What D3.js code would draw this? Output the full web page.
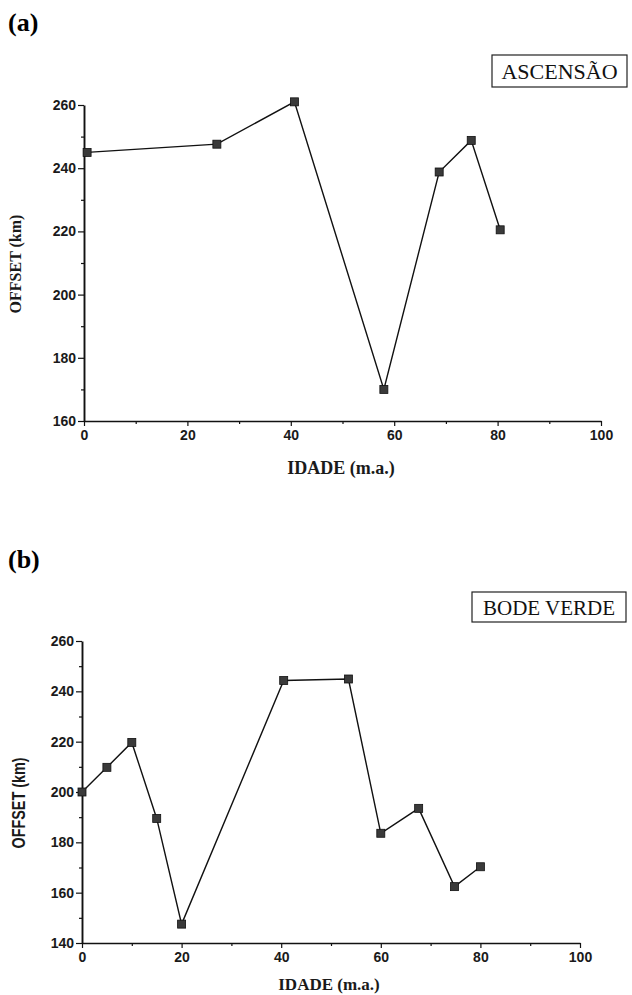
<!DOCTYPE html>
<html>
<head>
<meta charset="utf-8">
<script src="https://cdn.jsdelivr.net/npm/d3@7"></script>
<style>
  body { margin: 0; background: #fff; }
  .tick text { font-family: Arial, "Liberation Sans", sans-serif; font-weight: bold; fill: #1a1a1a; }
  .domain, .tick line { stroke: #111; }
</style>
</head>
<body>
<div id="chart"></div>
<script>
// ASCENSAO (a)
var ageA = [0.6, 25.7, 40.7, 58, 68.7, 74.9, 80.5];
var offsetA = [245, 247.6, 261, 170, 238.8, 248.8, 220.5];
// BODE VERDE (b)
var ageB = [0, 5, 10, 15, 20, 40.5, 53.5, 60, 67.6, 74.8, 80];
var offsetB = [200, 209.8, 219.7, 189.5, 147.5, 244.3, 244.9, 183.6, 193.5, 162.4, 170.3];

var xTicks = [0, 20, 40, 60, 80, 100];
var yTicksA = [160, 180, 200, 220, 240, 260];
var yTicksB = [140, 160, 180, 200, 220, 240, 260];

var serif = "'Liberation Serif', 'Times New Roman', serif";
var svg = d3.select("#chart").append("svg").attr("width", 632).attr("height", 995);

function panel(cfg) {
    var x = d3.scaleLinear().domain([0, 100]).range([cfg.left, cfg.right]);
    var y = d3.scaleLinear().domain(cfg.ydom).range([cfg.bottom, cfg.top]);
    var g = svg.append("g");

    // minor ticks
    var minorX = d3.range(10, 100, 20);
    var minorY = d3.range(cfg.ydom[0] + 10, cfg.ydom[1], 20);

    g.append("g").attr("transform", "translate(0," + cfg.bottom + ")")
        .call(d3.axisBottom(x).tickValues(minorX).tickSize(3).tickFormat(""))
        .select(".domain").remove();
    g.append("g").attr("transform", "translate(" + cfg.left + ",0)")
        .call(d3.axisLeft(y).tickValues(minorY).tickSize(3).tickFormat(""))
        .select(".domain").remove();

    var xa = g.append("g").attr("transform", "translate(0," + cfg.bottom + ")")
        .call(d3.axisBottom(x).tickValues(xTicks).tickSize(5).tickSizeOuter(0).tickPadding(4));
    var ya = g.append("g").attr("transform", "translate(" + cfg.left + ",0)")
        .call(d3.axisLeft(y).tickValues(cfg.yticks).tickSize(6).tickSizeOuter(0).tickPadding(2));
    xa.selectAll(".domain").attr("stroke-width", 1.7);
    ya.selectAll(".domain").attr("stroke-width", 1.9);
    g.selectAll(".tick line").attr("stroke-width", 1.2);
    xa.selectAll("text").style("font-size", cfg.tickFont);
    ya.selectAll("text").style("font-size", cfg.tickFont);

    var pts = cfg.xs.map(function(d, i){ return [d, cfg.ys[i]]; });
    var line = d3.line().x(function(d){ return x(d[0]); }).y(function(d){ return y(d[1]); });
    g.append("path").datum(pts).attr("d", line)
        .attr("fill", "none").attr("stroke", "#111").attr("stroke-width", 1.4);

    g.selectAll("rect.pt").data(pts).enter().append("rect").attr("class", "pt")
        .attr("x", function(d){ return x(d[0]) - 4; })
        .attr("y", function(d){ return y(d[1]) - 4; })
        .attr("width", 8).attr("height", 8)
        .attr("fill", "#3a3a3a").attr("stroke", "#111").attr("stroke-width", 0.8);

    // panel letter
    svg.append("text").attr("x", 8).attr("y", cfg.letterY)
        .style("font-family", serif)
        .style("font-weight", "bold").style("font-size", "26px")
        .text(cfg.letter);

    // name box
    svg.append("rect").attr("x", cfg.box[0]).attr("y", cfg.box[1])
        .attr("width", cfg.box[2]).attr("height", cfg.box[3])
        .attr("fill", "#fff").attr("stroke", "#222").attr("stroke-width", 1.2);
    svg.append("text").attr("x", cfg.box[0] + cfg.box[2] / 2).attr("y", cfg.box[1] + cfg.box[3] / 2 + 8)
        .attr("text-anchor", "middle")
        .style("font-family", serif)
        .style("font-size", cfg.nameFont).style("fill", "#111")
        .text(cfg.name);

    // axis titles
    svg.append("text").attr("x", cfg.xlabX).attr("y", cfg.xlabY)
        .attr("text-anchor", "middle")
        .style("font-family", serif).style("font-weight", "bold")
        .style("font-size", cfg.xlabFont).style("fill", "#1a1a1a")
        .text("IDADE (m.a.)");
    svg.append("text")
        .attr("transform", "translate(" + cfg.ylabX + "," + cfg.ylabY + ") rotate(-90)" + cfg.ylabSquash)
        .attr("text-anchor", "middle")
        .style("font-family", cfg.ylabFamily)
        .style("font-size", cfg.ylabFont).style("font-weight", "bold").style("fill", "#1a1a1a")
        .text("OFFSET (km)");
}

panel({
    xs: ageA, ys: offsetA, ydom: [160, 260], yticks: yTicksA,
    left: 84, right: 601, top: 105, bottom: 421,
    letter: "(a)", letterY: 31,
    name: "ASCENSÃO", box: [492, 55, 135, 32], nameFont: "22px",
    xlabX: 341, xlabY: 474, xlabFont: "18px",
    ylabX: 21, ylabY: 264, ylabFamily: serif, ylabSquash: "", ylabFont: "16px",
    tickFont: "14px"
});

panel({
    xs: ageB, ys: offsetB, ydom: [140, 260], yticks: yTicksB,
    left: 82, right: 580, top: 641, bottom: 943,
    letter: "(b)", letterY: 568,
    name: "BODE VERDE", box: [472, 592, 154, 30], nameFont: "21px",
    xlabX: 329, xlabY: 990, xlabFont: "17px",
    ylabX: 25, ylabY: 803, ylabFamily: "Arial, 'Liberation Sans', sans-serif", ylabSquash: " scale(0.8,1)", ylabFont: "18px",
    tickFont: "14px"
});
</script>
</body>
</html>
